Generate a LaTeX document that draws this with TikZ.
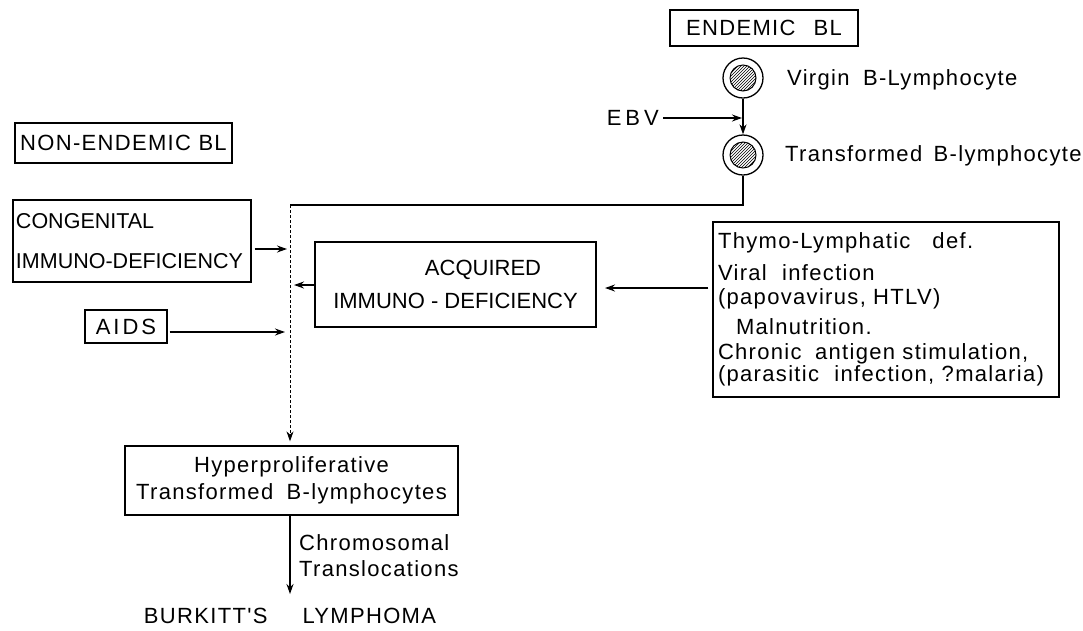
\documentclass[tikz,border=0pt]{standalone}
\usepackage{fontspec}
\setmainfont{Liberation Sans}
\newfontfamily\lsfont[LetterSpace=6]{Liberation Sans}
\usetikzlibrary{arrows.meta,patterns}
\begin{document}
\begin{tikzpicture}[x=1pt,y=-1pt,
  txt/.style={font=\lsfont\fontsize{22}{25}\selectfont, inner sep=0pt},
  box/.style={draw, line width=1.3pt, font=\lsfont\fontsize{22}{25}\selectfont},
  plainbox/.style={draw, line width=1.3pt, font=\fontsize{22}{25}\selectfont},
  cell/.style={draw, circle, line width=1.3pt, minimum size=40pt, inner sep=0pt,
    path picture={\draw[line width=1pt, pattern=north east lines] (path picture bounding box.center) circle (13pt);}},
  arr/.style={-{Stealth[length=10pt,width=7pt]}, line width=1.3pt},
  con/.style={line width=1.3pt}]
\useasboundingbox (0,0) rectangle (1083,630);

% boxes
\node[box, minimum width=188pt, minimum height=36pt] (endemic) at (764,28) {ENDEMIC\hspace{18pt}BL};
\node[box, minimum width=217pt, minimum height=40pt] (nonend) at (123.5,143) {NON-ENDEMIC BL};
\node[plainbox, font=\fontsize{21.5}{25}\selectfont, minimum width=238pt, minimum height=82pt, text width=232pt, align=left, inner xsep=3pt] (cong) at (132,241) {CONGENITAL\\[15pt]IMMUNO-DEFICIENCY};
\node[box, minimum width=82pt, minimum height=33pt] (aids) at (126,326.5) {A\kern3pt I\kern3pt D\kern3pt S};
\node[plainbox, minimum width=281pt, minimum height=85pt, align=center] (acq) at (455.5,284.5) {\hspace{55pt}ACQUIRED\\[8pt]IMMUNO - DEFICIENCY};
\node[box, font=\lsfont\fontsize{22}{24}\selectfont, minimum width=346pt, minimum height=175pt, text width=336pt, align=left, inner xsep=5pt] (causes) at (886,309.5)
  {Thymo-Lymphatic\hspace{22pt}def.\\[8pt]
   Viral\hspace{8pt} infection\\
   (papovavirus, HTLV)\\[6pt]
   \hspace*{18pt}Malnutrition.\\[1pt]
   Chronic\hspace{6pt} antigen stimulation,\\[-2pt]
   (parasitic\hspace{8pt} infection, ?malaria)};
\node[box, minimum width=333pt, minimum height=69pt, align=center] (hyper) at (291.5,480.5) {Hyperproliferative\\[2pt]Transformed\hspace{6pt} B-lymphocytes};

% cells
\node[cell] (virgin) at (743,78) {};
\node[cell] (trans) at (743,155) {};
\node[txt, anchor=west] (vlab) at (787,80) {Virgin\hspace{6pt} B-Lymphocyte};
\node[txt, anchor=west] (tlab) at (785,156) {Transformed\hspace{4pt} B-lymphocyte};
\node[txt, anchor=east] (ebv) at (659,118) {E\kern4pt B\kern4pt V};

% labels
\node[txt, anchor=west, align=left] (chrom) at (299,555.5) {Chromosomal\\[1pt]Translocations};
\node[txt] (burkitt) at (290,616) {BURKITT'S\hspace{35pt}LYMPHOMA};

% coordinates
\coordinate (j) at (290,205);
\coordinate (ebvin) at (742,118);
\coordinate (cin) at (287,249);
\coordinate (ain) at (285,332);
\coordinate (qin) at (294,285);
\coordinate (rin) at (605,288);

% connectors
\draw[arr] ([xshift=4pt]ebv.east) -- (ebvin);
\draw[arr] (virgin.south) -- (trans.north);
\draw[con] (trans.south) |- (j);
\draw[arr, densely dashed, line width=1pt] (j) -- ([yshift=4pt]j |- hyper.north);
\draw[arr] ([xshift=3pt]cong.east |- cin) -- (cin);
\draw[arr] ([xshift=2pt]aids.east |- ain) -- (ain);
\draw[arr] (acq.west |- qin) -- (qin);
\draw[arr] ([xshift=-4pt]causes.west |- rin) -- (rin);
\draw[arr] (j |- hyper.south) -- ([yshift=14pt]j |- burkitt.north);
\end{tikzpicture}
\end{document}
